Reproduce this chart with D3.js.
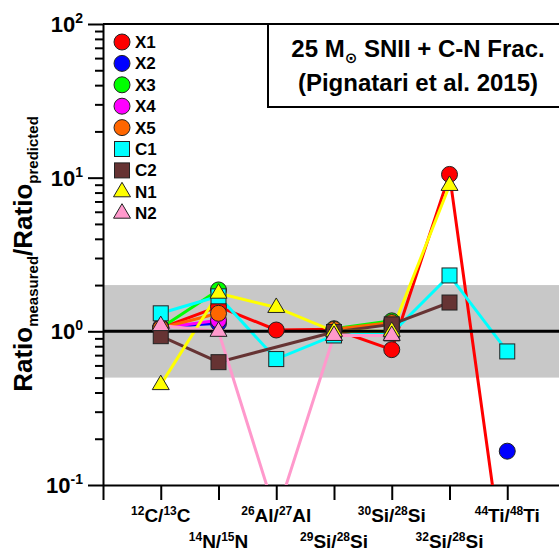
<!DOCTYPE html>
<html lang="en">
<head>
<meta charset="UTF-8">
<title>Ratio measured / predicted</title>
<script src="https://d3js.org/d3.v7.min.js"></script>
<style>
  body { margin: 0; background: #fff; }
  svg text { font-family: "Liberation Sans", Arial, sans-serif; font-weight: bold; fill: #000; }
</style>
</head>
<body>
<div id="chart"></div>
<script>
// isotope ratios along the x axis, superscripts written in braces
const categories = ["{12}C/{13}C", "{14}N/{15}N", "{26}Al/{27}Al", "{29}Si/{28}Si",
                    "{30}Si/{28}Si", "{32}Si/{28}Si", "{44}Ti/{48}Ti"];

// measured/predicted ratio for each grain, null = not measured
const X1 = [1.05, 1.45, 1.02, 1.03, 0.76, 10.5, 0.02];
const X2 = [1.07, 1.13, null, null, null, null, 0.166];
const X3 = [1.05, 1.86, null, 1.04, 1.17, null, null];
const X4 = [1.05, 1.18, null, null, null, null, null];
const X5 = [1.05, 1.31, null, 1.03, 1.14, null, null];
const C1 = [1.31, 1.69, 0.66, 0.94, 0.97, 2.31, 0.74];
const C2 = [0.93, 0.63, null, 0.99, 1.11, 1.54, null];
const N1 = [0.45, 1.77, 1.43, 1.0, 1.0, 8.9, null];
const N2 = [1.09, 1.0, 0.063, 0.94, 0.94, null, null];

const seriesNames = ["X1", "X2", "X3", "X4", "X5", "C1", "C2", "N1", "N2"];
const seriesValues = [X1, X2, X3, X4, X5, C1, C2, N1, N2];
const seriesColors = ["#ff0000", "#0000ff", "#00ff00", "#ff00ff", "#ff6600",
                      "#00ffff", "#663333", "#ffff00", "#ff99cc"];
const seriesShapes = ["circle", "circle", "circle", "circle", "circle",
                      "square", "square", "triangle", "triangle"];
// C2 is joined straight across its missing 26Al point
const bridgeGaps = ["C2"];

const yMajorTicks = [0.1, 1, 10, 100];
const yTickExponents = ["-1", "0", "1", "2"];
const bandRange = [0.5, 2];

const W = 559, H = 551;
const mLeft = 103, mTop = 24, mBottom = 485, mRight = W;

const svg = d3.select("#chart").append("svg")
    .attr("width", W).attr("height", H);

const x = d3.scaleLinear().domain([0, 8]).range([mLeft, 565]);
const y = d3.scaleLog().domain([0.1, 100]).range([mBottom, mTop]);

svg.append("defs").append("clipPath").attr("id", "plot")
  .append("rect").attr("x", mLeft).attr("y", mTop)
  .attr("width", mRight - mLeft).attr("height", mBottom - mTop);

// grey factor-of-2 band
svg.append("rect")
    .attr("x", mLeft).attr("width", mRight - mLeft)
    .attr("y", y(bandRange[1])).attr("height", y(bandRange[0]) - y(bandRange[1]))
    .attr("fill", "#c8c8c8");

// title box
svg.append("rect")
    .attr("x", 268).attr("y", mTop).attr("width", 320).attr("height", 83)
    .attr("fill", "#fff").attr("stroke", "#000").attr("stroke-width", 2);

const t1 = svg.append("text").attr("x", 418).attr("y", 57)
    .attr("text-anchor", "middle").style("font-size", "24px");
t1.append("tspan").text("25 M");
t1.append("tspan").attr("dy", 6).style("font-size", "15px").style("font-family", "DejaVu Sans").text("\u2299");
t1.append("tspan").attr("dy", -6).text(" SNII + C-N Frac.");
svg.append("text").attr("x", 418).attr("y", 91)
    .attr("text-anchor", "middle").style("font-size", "24px")
    .text("(Pignatari et al. 2015)");

// top frame line
svg.append("line").attr("x1", mLeft).attr("x2", mRight).attr("y1", mTop).attr("y2", mTop)
    .attr("stroke", "#000").attr("stroke-width", 2);

// axes
const xAxis = svg.append("g")
    .attr("transform", `translate(0,${mBottom})`)
    .call(d3.axisBottom(x).tickValues(d3.range(0, 9)).tickSize(15).tickSizeOuter(0).tickFormat(""));
xAxis.select(".domain").attr("stroke-width", 2);
xAxis.selectAll(".tick line").attr("stroke-width", 2);

const yMinor = [];
for (let e = -1; e < 2; e++) for (let m = 2; m <= 9; m++) yMinor.push(m * Math.pow(10, e));
const yAxis = svg.append("g")
    .attr("transform", `translate(${mLeft},0)`)
    .call(d3.axisLeft(y).tickValues(yMajorTicks.concat(yMinor)).tickSizeOuter(0).tickFormat(""));
yAxis.select(".domain").attr("stroke-width", 2);
yAxis.selectAll(".tick line")
    .attr("stroke-width", 2)
    .attr("x2", d => yMajorTicks.includes(d) ? -15 : -8);

yMajorTicks.forEach((v, i) => {
  const t = svg.append("text").attr("x", 83).attr("y", y(v) + 8)
      .attr("text-anchor", "end").style("font-size", "22px");
  t.append("tspan").text("10");
  t.append("tspan").attr("dy", -9).style("font-size", "14px").text(yTickExponents[i]);
});

// category labels with superscripts, alternating two rows
categories.forEach((c, i) => {
  const t = svg.append("text")
      .attr("x", x(i + 1)).attr("y", i % 2 === 0 ? 522 : 548)
      .attr("text-anchor", "middle");
  let shifted = false;
  c.split(/(\{[^}]*\})/).filter(s => s).forEach(part => {
    if (part[0] === "{") {
      t.append("tspan").attr("dy", shifted ? 0 : -7).style("font-size", "12px").text(part.slice(1, -1));
      shifted = true;
    } else {
      t.append("tspan").attr("dy", shifted ? 7 : 0).style("font-size", "19px").text(part);
      shifted = false;
    }
  });
});

// y label
const yl = svg.append("text")
    .attr("transform", "translate(32,254) rotate(-90)")
    .attr("text-anchor", "middle").style("font-size", "26px");
yl.append("tspan").text("Ratio");
yl.append("tspan").attr("dy", 6).style("font-size", "15px").text("measured");
yl.append("tspan").attr("dy", -6).text("/Ratio");
yl.append("tspan").attr("dy", 6).style("font-size", "15px").text("predicted");

// series lines
const plot = svg.append("g").attr("clip-path", "url(#plot)");
const line = d3.line().x(d => x(d.i + 1)).y(d => y(d.v)).defined(d => d.v != null);
seriesNames.forEach((name, s) => {
  let pts = seriesValues[s].map((v, i) => ({ i, v }));
  if (bridgeGaps.includes(name)) pts = pts.filter(d => d.v != null);
  plot.append("path").attr("d", line(pts))
      .attr("fill", "none").attr("stroke", seriesColors[s]).attr("stroke-width", 3);
});

// reference line at 1
plot.append("line").attr("x1", mLeft).attr("x2", mRight).attr("y1", y(1)).attr("y2", y(1))
    .attr("stroke", "#000").attr("stroke-width", 3);

function marker(g, shape, cx, cy, color) {
  let m;
  if (shape === "circle") {
    m = g.append("circle").attr("cx", cx).attr("cy", cy).attr("r", 8);
  } else if (shape === "square") {
    m = g.append("rect").attr("x", cx - 7.5).attr("y", cy - 7.5).attr("width", 15).attr("height", 15);
  } else {
    m = g.append("path").attr("d", `M${cx},${cy - 9.5}L${cx + 8.5},${cy + 5}L${cx - 8.5},${cy + 5}Z`);
  }
  m.attr("fill", color).attr("stroke", "#222").attr("stroke-width", 1);
}

seriesNames.forEach((name, s) => {
  const g = plot.append("g");
  seriesValues[s].forEach((v, i) => {
    if (v == null) return;
    marker(g, seriesShapes[s], x(i + 1), y(v), seriesColors[s]);
  });
});

// legend
seriesNames.forEach((name, s) => {
  const cy = 42 + s * 21.4;
  marker(svg, seriesShapes[s], 122, cy, seriesColors[s]);
  svg.append("text").attr("x", 135).attr("y", cy + 6).style("font-size", "17px").text(name);
});
</script>
</body>
</html>
